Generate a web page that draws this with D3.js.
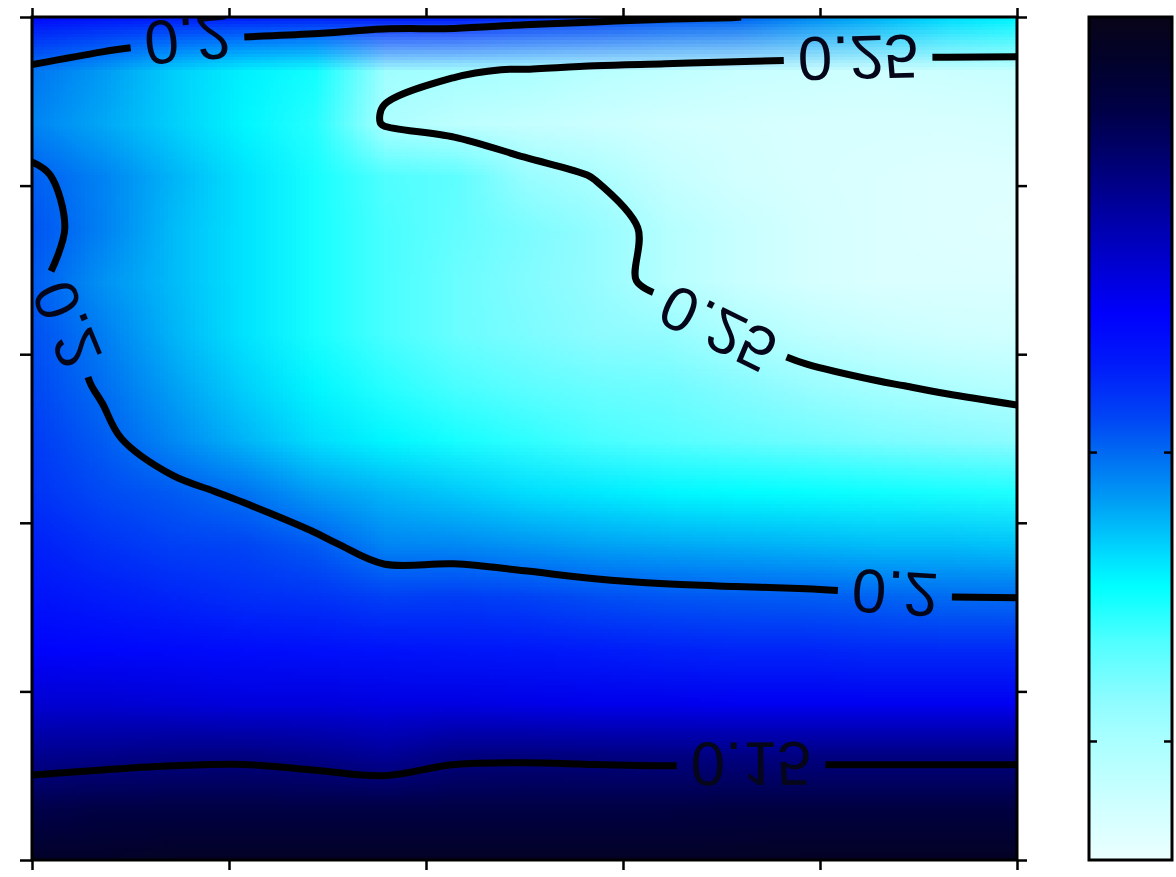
<!DOCTYPE html>
<html>
<head>
<meta charset="utf-8">
<script src="https://cdn.jsdelivr.net/npm/d3@7/dist/d3.min.js"></script>
<style>
html, body { margin: 0; padding: 0; background: #ffffff; overflow: hidden; }
#wrap { position: relative; width: 1176px; height: 877px; }
#heat { position: absolute; overflow: hidden; }
#heat canvas { position: absolute; }
#wrap svg { position: absolute; left: 0; top: 0; }
</style>
</head>
<body>
<div id="wrap"></div>
<script>
// ---------------- data ----------------
// field values, rows listed top -> bottom as drawn, 15 columns left -> right
const row00 = [0.180, 0.184, 0.186, 0.187, 0.188, 0.186, 0.1864, 0.1912, 0.1943, 0.1976, 0.1995, 0.206, 0.212, 0.218, 0.222];
const row01 = [0.2021, 0.2082, 0.2158, 0.2212, 0.2255, 0.2475, 0.249, 0.2505, 0.2545, 0.2566, 0.259, 0.260, 0.261, 0.260, 0.259];
const row02 = [0.2045, 0.210, 0.216, 0.222, 0.228, 0.2512, 0.2557, 0.258, 0.260, 0.262, 0.263, 0.264, 0.264, 0.264, 0.263];
const row03 = [0.1985, 0.2043, 0.212, 0.219, 0.226, 0.233, 0.2353, 0.2459, 0.2505, 0.258, 0.262, 0.264, 0.265, 0.266, 0.266];
const row04 = [0.1965, 0.204, 0.213, 0.219, 0.226, 0.232, 0.236, 0.240, 0.245, 0.2532, 0.259, 0.263, 0.265, 0.266, 0.267];
const row05 = [0.198, 0.2067, 0.213, 0.219, 0.226, 0.232, 0.237, 0.241, 0.245, 0.2535, 0.259, 0.263, 0.265, 0.265, 0.265];
const row06 = [0.196, 0.2035, 0.212, 0.219, 0.226, 0.232, 0.237, 0.240, 0.243, 0.2445, 0.251, 0.256, 0.259, 0.261, 0.262];
const row07 = [0.1945, 0.201, 0.209, 0.216, 0.222, 0.228, 0.232, 0.235, 0.237, 0.238, 0.2415, 0.2457, 0.249, 0.2515, 0.254];
const row08 = [0.192, 0.198, 0.2054, 0.212, 0.218, 0.222, 0.226, 0.229, 0.232, 0.234, 0.236, 0.238, 0.240, 0.2415, 0.243];
const row09 = [0.190, 0.195, 0.1977, 0.2016, 0.208, 0.212, 0.215, 0.218, 0.220, 0.222, 0.223, 0.224, 0.225, 0.226, 0.227];
const row10 = [0.186, 0.190, 0.193, 0.194, 0.1976, 0.2045, 0.205, 0.207, 0.209, 0.210, 0.211, 0.212, 0.213, 0.213, 0.214];
const row11 = [0.182, 0.185, 0.187, 0.189, 0.190, 0.1927, 0.1918, 0.1933, 0.1954, 0.1968, 0.1974, 0.1979, 0.1989, 0.2001, 0.2003];
const row12 = [0.177, 0.178, 0.179, 0.180, 0.181, 0.182, 0.183, 0.184, 0.185, 0.186, 0.187, 0.187, 0.188, 0.188, 0.188];
const row13 = [0.168, 0.168, 0.169, 0.170, 0.170, 0.171, 0.171, 0.172, 0.173, 0.173, 0.174, 0.174, 0.174, 0.174, 0.174];
const row14 = [0.155, 0.1541, 0.1527, 0.1523, 0.1541, 0.1567, 0.1523, 0.1518, 0.1523, 0.1527, 0.1526, 0.1526, 0.1526, 0.1526, 0.1526];
const row15 = [0.142, 0.140, 0.140, 0.140, 0.140, 0.140, 0.140, 0.140, 0.140, 0.140, 0.139, 0.139, 0.139, 0.139, 0.139];
const row16 = [0.131, 0.131, 0.130, 0.130, 0.130, 0.130, 0.130, 0.130, 0.130, 0.130, 0.130, 0.129, 0.129, 0.129, 0.129];
const field = [row00, row01, row02, row03, row04, row05, row06, row07, row08, row09, row10, row11, row12, row13, row14, row15, row16];

const contourLevels = [0.15, 0.2, 0.25];
const xTicks = [0, 1, 2, 3, 4, 5];
const yTicks = [0, 1, 2, 3, 4, 5];
const cbarTicks = [0.2, 0.25];
const cbarRange = [0.1247, 0.2706];

// colour map (position 0 = low value / dark, 1 = high value / white)
const cmapPos = [0.00, 0.05, 0.113, 0.179, 0.244, 0.311, 0.351, 0.41, 0.477, 0.516, 0.577, 0.643, 0.676, 0.741, 0.808, 0.859, 0.941, 1.00];
const cmapColors = ["rgb(8,4,24)", "rgb(2,2,42)", "rgb(0,0,72)", "rgb(0,0,120)", "rgb(0,0,170)", "rgb(0,0,222)",
  "rgb(0,0,252)", "rgb(0,25,250)", "rgb(0,70,245)", "rgb(0,105,242)", "rgb(0,160,245)", "rgb(0,225,255)",
  "rgb(0,255,255)", "rgb(80,255,255)", "rgb(140,252,255)", "rgb(170,255,255)", "rgb(210,255,255)", "rgb(235,255,255)"];

// contour label anchor spots (layout)
const labelSpots = [
  { level: 0.2, x: 187, y: 36 },
  { level: 0.25, x: 858, y: 55 },
  { level: 0.25, x: 713, y: 338 },
  { level: 0.2, x: 72, y: 322 },
  { level: 0.2, x: 895, y: 592 },
  { level: 0.15, x: 751, y: 765 }
];

// ---------------- layout ----------------
const W = 1176, H = 877;
const PL = 32, PR = 1017, PT = 17, PB = 860;
const CBL = 1089, CBR = 1172;
const NX = field[0].length, NY = field.length;
const FONT = "'Liberation Sans', Arial, Helvetica, sans-serif";
const FS = 62;

const X = d3.scaleLinear().domain([0, NX - 1]).range([PL, PR]);
const Y = d3.scaleLinear().domain([0, NY - 1]).range([PT, PB]);
const color = d3.scaleLinear()
  .domain(cmapPos.map(t => cbarRange[0] + t * (cbarRange[1] - cbarRange[0])))
  .range(cmapColors)
  .interpolate(d3.interpolateRgb)
  .clamp(true);

const wrap = d3.select("#wrap");

// heat map: one pixel per value, smoothly scaled by the browser
const heat = wrap.append("div").attr("id", "heat")
  .style("left", PL + "px").style("top", PT + "px")
  .style("width", (PR - PL) + "px").style("height", (PB - PT) + "px");
const cv = heat.append("canvas").attr("width", NX).attr("height", NY)
  .style("left", (X(-0.5) - PL) + "px")
  .style("top", (Y(-0.5) - PT) + "px")
  .style("width", (X(NX - 0.5) - X(-0.5)) + "px")
  .style("height", (Y(NY - 0.5) - Y(-0.5)) + "px");
const ctx = cv.node().getContext("2d");
const img = ctx.createImageData(NX, NY);
field.forEach((row, j) => row.forEach((v, i) => {
  const c = d3.rgb(color(v));
  const k = 4 * (j * NX + i);
  img.data[k] = c.r; img.data[k + 1] = c.g; img.data[k + 2] = c.b; img.data[k + 3] = 255;
}));
ctx.putImageData(img, 0, 0);

const svg = wrap.append("svg").attr("width", W).attr("height", H);
const defs = svg.append("defs");
defs.append("clipPath").attr("id", "plotclip").append("rect")
  .attr("x", PL).attr("y", PT).attr("width", PR - PL).attr("height", PB - PT);

// ---------------- contours ----------------
const gen = d3.contours().size([NX, NY]).thresholds(contourLevels);
const polys = gen(field.flat());

function isBoundary(p) {
  return p[0] <= 1e-9 || p[0] >= NX - 1e-9 || p[1] <= 1e-9 || p[1] >= NY - 1e-9;
}
function ringToLines(ring) {
  let pts = ring.slice();
  const f = pts[0], l = pts[pts.length - 1];
  if (f[0] === l[0] && f[1] === l[1]) pts.pop();
  const b = pts.findIndex(isBoundary);
  if (b < 0) return [pts.concat([pts[0]])];
  const rot = pts.slice(b).concat(pts.slice(0, b));
  const out = [];
  let cur = [];
  rot.forEach(p => {
    if (isBoundary(p)) { if (cur.length > 1) out.push(cur); cur = []; }
    else cur.push(p);
  });
  if (cur.length > 1) out.push(cur);
  return out;
}

let lines = [];
polys.forEach(mp => {
  mp.coordinates.forEach(poly => poly.forEach(ring => {
    ringToLines(ring).forEach(l => {
      const pts = [];
      l.forEach(p => {
        const q = [X(p[0] - 0.5), Y(p[1] - 0.5)];
        const last = pts[pts.length - 1];
        if (!last || Math.hypot(q[0] - last[0], q[1] - last[1]) > 0.5) pts.push(q);
      });
      if (pts.length > 1) lines.push({ level: mp.value, pts: pts, cuts: [] });
    });
  }));
});

function cumLen(pts) {
  const s = [0];
  for (let i = 1; i < pts.length; i++) s.push(s[i - 1] + Math.hypot(pts[i][0] - pts[i - 1][0], pts[i][1] - pts[i - 1][1]));
  return s;
}
function pointAt(pts, s, t) {
  if (t <= 0) return pts[0].slice();
  if (t >= s[s.length - 1]) return pts[pts.length - 1].slice();
  let k = 0;
  while (k < s.length - 2 && s[k + 1] < t) k++;
  const u = (t - s[k]) / (s[k + 1] - s[k] || 1);
  return [pts[k][0] + u * (pts[k + 1][0] - pts[k][0]), pts[k][1] + u * (pts[k + 1][1] - pts[k][1])];
}
function project(pts, s, x, y) {
  let best = { d: Infinity, t: 0 };
  for (let i = 0; i < pts.length - 1; i++) {
    const ax = pts[i][0], ay = pts[i][1], bx = pts[i + 1][0], by = pts[i + 1][1];
    const dx = bx - ax, dy = by - ay, L2 = dx * dx + dy * dy || 1;
    let u = ((x - ax) * dx + (y - ay) * dy) / L2;
    u = Math.max(0, Math.min(1, u));
    const px = ax + u * dx, py = ay + u * dy;
    const d = Math.hypot(x - px, y - py);
    if (d < best.d) best = { d: d, t: s[i] + u * (s[i + 1] - s[i]) };
  }
  return best;
}

const labelG = svg.append("g").attr("clip-path", "url(#plotclip)");
const lineG = svg.append("g").attr("clip-path", "url(#plotclip)");

labelSpots.forEach(sp => {
  let bestLine = null, best = null;
  lines.filter(l => Math.abs(l.level - sp.level) < 1e-9).forEach(l => {
    const s = cumLen(l.pts);
    const pr = project(l.pts, s, sp.x, sp.y);
    if (!best || pr.d < best.d) { best = pr; bestLine = l; }
  });
  if (!bestLine) return;
  const s = cumLen(bestLine.pts);
  const p = pointAt(bestLine.pts, s, best.t);
  const a = pointAt(bestLine.pts, s, best.t - 35), b = pointAt(bestLine.pts, s, best.t + 35);
  let ang = Math.atan2(b[1] - a[1], b[0] - a[0]) * 180 / Math.PI;
  if (b[0] - a[0] < 0) ang += 180;
  const txt = labelG.append("text")
    .attr("transform", `translate(${p[0]},${p[1]}) rotate(${ang}) scale(1,-1)`)
    .attr("text-anchor", "middle")
    .attr("dy", "0.36em")
    .attr("font-family", FONT)
    .attr("font-size", FS)
    .attr("fill", "#06061a")
    .text(String(sp.level));
  const tw = txt.node().getComputedTextLength();
  const g = tw + 28;
  bestLine.cuts.push([best.t - g / 2, best.t + g / 2]);
});

const lineGen = d3.line().curve(d3.curveCatmullRom.alpha(0.5));
lines.forEach(l => {
  const s = cumLen(l.pts);
  const total = s[s.length - 1];
  const cuts = l.cuts.slice().sort((u, v) => u[0] - v[0]);
  let start = 0;
  const pieces = [];
  cuts.forEach(c => { pieces.push([start, c[0]]); start = c[1]; });
  pieces.push([start, total]);
  pieces.forEach(pc => {
    if (pc[1] - pc[0] < 2) return;
    const pts = [pointAt(l.pts, s, pc[0])];
    for (let i = 0; i < l.pts.length; i++) if (s[i] > pc[0] + 0.5 && s[i] < pc[1] - 0.5) pts.push(l.pts[i]);
    pts.push(pointAt(l.pts, s, pc[1]));
    lineG.append("path")
      .attr("d", lineGen(pts))
      .attr("fill", "none")
      .attr("stroke", "#000")
      .attr("stroke-width", 7)
      .attr("stroke-linecap", "butt")
      .attr("stroke-linejoin", "round");
  });
});

// ---------------- axes & frame ----------------
const xAx = d3.scaleLinear().domain([0, 5]).range([PL, PR]);
const yAx = d3.scaleLinear().domain([0, 5]).range([PT, PB]);
function styleAxis(g) {
  g.select(".domain").remove();
  g.selectAll(".tick line").attr("stroke", "#000").attr("stroke-width", 2.5);
  g.selectAll(".tick text").remove();
}
svg.append("g").attr("transform", `translate(0,${PT})`)
  .call(d3.axisTop(xAx).tickValues(xTicks).tickSize(9).tickFormat("")).call(styleAxis);
svg.append("g").attr("transform", `translate(0,${PB})`)
  .call(d3.axisBottom(xAx).tickValues(xTicks).tickSize(10).tickFormat("")).call(styleAxis);
svg.append("g").attr("transform", `translate(${PL},0)`)
  .call(d3.axisLeft(yAx).tickValues(yTicks).tickSize(12).tickFormat("")).call(styleAxis);
svg.append("g").attr("transform", `translate(${PR},0)`)
  .call(d3.axisRight(yAx).tickValues(yTicks).tickSize(10).tickFormat("")).call(styleAxis);
svg.append("rect").attr("x", PL).attr("y", PT).attr("width", PR - PL).attr("height", PB - PT)
  .attr("fill", "none").attr("stroke", "#000").attr("stroke-width", 3);

// ---------------- colour bar ----------------
const grad = defs.append("linearGradient").attr("id", "cbgrad")
  .attr("x1", 0).attr("y1", 0).attr("x2", 0).attr("y2", 1);
cmapPos.forEach((t, i) => grad.append("stop").attr("offset", t).attr("stop-color", cmapColors[i]));
const yCb = d3.scaleLinear().domain(cbarRange).range([PT, PB]);
svg.append("rect").attr("x", CBL).attr("y", PT).attr("width", CBR - CBL).attr("height", PB - PT)
  .attr("fill", "url(#cbgrad)");
svg.append("g").attr("transform", `translate(${CBL},0)`)
  .call(d3.axisRight(yCb).tickValues(cbarTicks).tickSize(8).tickFormat("")).call(styleAxis);
svg.append("g").attr("transform", `translate(${CBR},0)`)
  .call(d3.axisLeft(yCb).tickValues(cbarTicks).tickSize(8).tickFormat("")).call(styleAxis);
svg.append("rect").attr("x", CBL).attr("y", PT).attr("width", CBR - CBL).attr("height", PB - PT)
  .attr("fill", "none").attr("stroke", "#000").attr("stroke-width", 3);
</script>
</body>
</html>
